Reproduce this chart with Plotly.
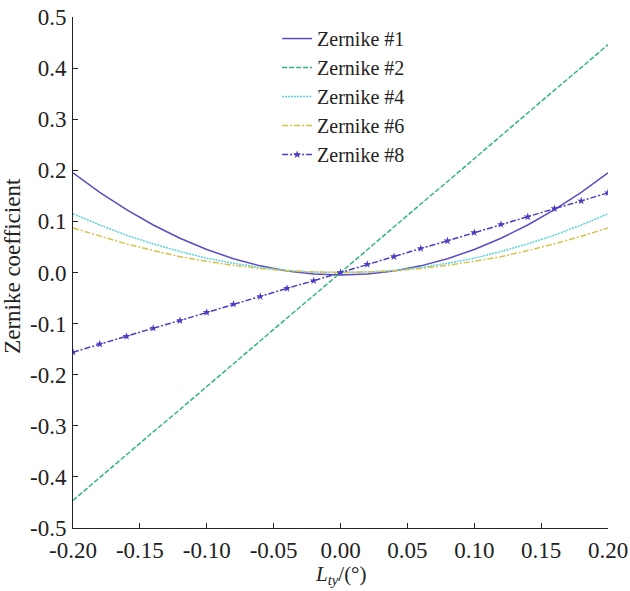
import plotly.graph_objects as go

x_vals = [-0.20, -0.18, -0.16, -0.14, -0.12, -0.10, -0.08, -0.06, -0.04, -0.02, 0.00,
          0.02, 0.04, 0.06, 0.08, 0.10, 0.12, 0.14, 0.16, 0.18, 0.20]

z1 = [0.195, 0.157, 0.123, 0.093, 0.067, 0.045, 0.027, 0.013, 0.003, -0.003, -0.005,
      -0.003, 0.003, 0.013, 0.027, 0.045, 0.067, 0.093, 0.123, 0.157, 0.195]
z2 = [-0.446, -0.401, -0.357, -0.312, -0.268, -0.223, -0.178, -0.134, -0.089, -0.045, 0.000,
      0.045, 0.089, 0.134, 0.178, 0.223, 0.268, 0.312, 0.357, 0.401, 0.446]
z4 = [0.115, 0.093, 0.073, 0.056, 0.041, 0.028, 0.018, 0.010, 0.004, 0.001, 0.000,
      0.001, 0.004, 0.010, 0.018, 0.028, 0.041, 0.056, 0.073, 0.093, 0.115]
z6 = [0.087, 0.071, 0.056, 0.043, 0.031, 0.022, 0.014, 0.008, 0.003, 0.001, 0.000,
      0.001, 0.003, 0.008, 0.014, 0.022, 0.031, 0.043, 0.056, 0.071, 0.087]
z8 = [-0.156, -0.140, -0.125, -0.109, -0.094, -0.078, -0.062, -0.047, -0.031, -0.016, 0.000,
      0.016, 0.031, 0.047, 0.062, 0.078, 0.094, 0.109, 0.125, 0.140, 0.156]

names = ["Zernike #1", "Zernike #2", "Zernike #4", "Zernike #6", "Zernike #8"]
x_ticks = [-0.20, -0.15, -0.10, -0.05, 0.00, 0.05, 0.10, 0.15, 0.20]
x_ticktext = ["-0.20", "-0.15", "-0.10", "-0.05", "0.00", "0.05", "0.10", "0.15", "0.20"]
y_ticks = [-0.5, -0.4, -0.3, -0.2, -0.1, 0.0, 0.1, 0.2, 0.3, 0.4, 0.5]
y_ticktext = ["-0.5", "-0.4", "-0.3", "-0.2", "-0.1", "0.0", "0.1", "0.2", "0.3", "0.4", "0.5"]
x_title = "<i>L</i><sub><i>ty</i></sub>/(°)"
y_title = "Zernike coefficient"

fig = go.Figure()
fig.add_trace(go.Scatter(x=x_vals, y=z1, name=names[0], mode="lines",
                         line=dict(color="#5a4cc2", width=1.5, dash="solid")))
fig.add_trace(go.Scatter(x=x_vals, y=z2, name=names[1], mode="lines",
                         line=dict(color="#2fb877", width=1.5, dash="5px,2px")))
fig.add_trace(go.Scatter(x=x_vals, y=z4, name=names[2], mode="lines",
                         line=dict(color="#5ad2e2", width=1.5, dash="2px,1px")))
fig.add_trace(go.Scatter(x=x_vals, y=z6, name=names[3], mode="lines",
                         line=dict(color="#d6c24a", width=1.5, dash="6px,2px,2px,2px")))
fig.add_trace(go.Scatter(x=x_vals, y=z8, name=names[4], mode="lines+markers",
                         line=dict(color="#4a3fc4", width=1.5, dash="6px,2px,2px,2px"),
                         marker=dict(symbol="star", size=6, color="#4a3fc4")))

font_family = "Times New Roman, Liberation Serif, Times, serif"
fig.update_layout(
    width=630, height=591,
    margin=dict(l=73, r=22, t=17, b=63),
    paper_bgcolor="white", plot_bgcolor="white",
    font=dict(family=font_family, size=23, color="#222"),
    showlegend=True,
    legend=dict(x=0.3815, y=0.996, xanchor="left", yanchor="top",
                bgcolor="rgba(0,0,0,0)", font=dict(size=20, family=font_family),
                itemwidth=30),
    xaxis=dict(range=[-0.20, 0.20], tickvals=x_ticks, ticktext=x_ticktext,
               automargin=False,
               showgrid=False, zeroline=False, showline=True, linecolor="#222",
               linewidth=1, ticks="inside", ticklen=5, tickcolor="#222",
               ticklabelstandoff=1),
    yaxis=dict(range=[-0.5, 0.5], tickvals=y_ticks, ticktext=y_ticktext,
               automargin=False,
               showgrid=False, zeroline=False, showline=True, linecolor="#222",
               linewidth=1, ticks="inside", ticklen=5, tickcolor="#222",
               ticklabelstandoff=1),
    annotations=[
        dict(text=y_title, xref="paper", yref="paper", x=-60 / 535, y=0.513,
             textangle=-90, showarrow=False, xanchor="center", yanchor="middle",
             font=dict(size=23, family=font_family, color="#222")),
        dict(text=x_title, xref="paper", yref="paper", x=0.5, y=-47 / 511,
             showarrow=False, xanchor="center", yanchor="middle",
             font=dict(size=21, family=font_family, color="#222")),
    ],
)

fig.write_html("out.html", config={"displayModeBar": False},
               post_script="document.body.style.margin='0';")
